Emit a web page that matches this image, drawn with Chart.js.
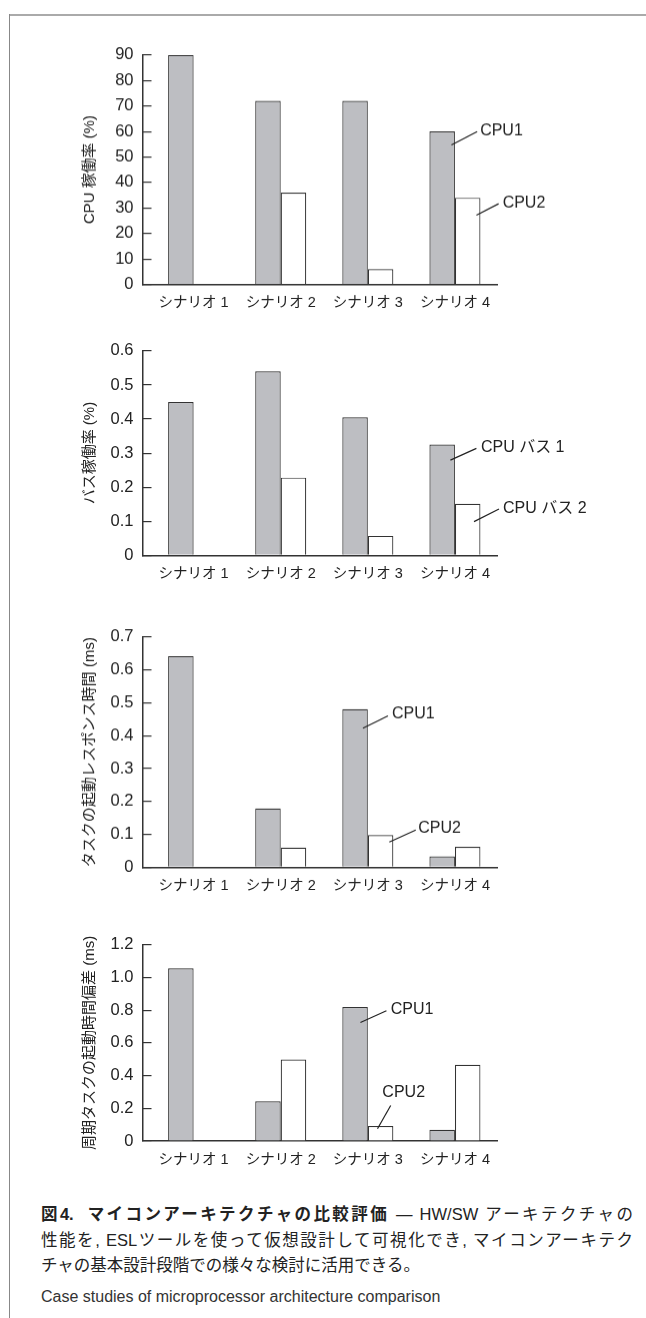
<!DOCTYPE html>
<html>
<head>
<meta charset="utf-8">
<script src="https://cdn.jsdelivr.net/npm/chart.js@4.4.0/dist/chart.umd.min.js"></script>
<style>
  body { margin: 0; background: #fff; width: 646px; height: 1318px; overflow: hidden; position: relative; }
  .frame-top { position: absolute; left: 9px; top: 14px; width: 637px; height: 2px; background: #aaa; }
  .frame-left { position: absolute; left: 9px; top: 14px; width: 1px; height: 1304px; background: #888; }
  .panel { position: absolute; left: 0; width: 646px; }
  #caption { position: absolute; left: 41px; top: 1202px; width: 592px; color: #222;
    font-family: "Liberation Sans", "Noto Sans CJK JP", sans-serif; font-size: 16.5px; line-height: 25.5px; }
  #caption .jl { text-align: justify; text-align-last: justify; }
  #caption .en { margin-top: 5px; font-size: 16px; color: #333; }
</style>
</head>
<body>
<div class="frame-top"></div>
<div class="frame-left"></div>
<div class="panel" id="p1"><canvas id="c1"></canvas></div>
<div class="panel" id="p2"><canvas id="c2"></canvas></div>
<div class="panel" id="p3"><canvas id="c3"></canvas></div>
<div class="panel" id="p4"><canvas id="c4"></canvas></div>
<div id="caption">
  <div class="jl"><b>図4.&nbsp; マイコンアーキテクチャの比較評価</b> — HW/SW アーキテクチャの</div>
  <div class="jl">性能を, ESLツールを使って仮想設計して可視化でき, マイコンアーキテク</div>
  <div>チャの基本設計段階での様々な検討に活用できる。</div>
  <div class="en">Case studies of microprocessor architecture comparison</div>
</div>
<script>
const scenarios = ['シナリオ 1', 'シナリオ 2', 'シナリオ 3', 'シナリオ 4'];

const cpuNames = ['CPU1', 'CPU2'];
const busNames = ['CPU バス 1', 'CPU バス 2'];

// CPU稼働率 (%)
const cpuRate1 = [90, 72, 72, 60];
const cpuRate2 = [null, 36, 6, 34];
const cpuTicks = ['0', '10', '20', '30', '40', '50', '60', '70', '80', '90'];

// バス稼働率 (%)
const busRate1 = [0.45, 0.54, 0.405, 0.325];
const busRate2 = [null, 0.228, 0.057, 0.151];
const busTicks = ['0', '0.1', '0.2', '0.3', '0.4', '0.5', '0.6'];

// タスクの起動レスポンス時間 (ms)
const respTime1 = [0.642, 0.179, 0.481, 0.033];
const respTime2 = [null, 0.06, 0.098, 0.062];
const respTicks = ['0', '0.1', '0.2', '0.3', '0.4', '0.5', '0.6', '0.7'];

// 周期タスクの起動時間偏差 (ms)
const jitter1 = [1.057, 0.243, 0.82, 0.069];
const jitter2 = [null, 0.498, 0.092, 0.467];
const jitterTicks = ['0', '0.2', '0.4', '0.6', '0.8', '1.0', '1.2'];

const FONT = '"Liberation Sans", "Noto Sans CJK JP", sans-serif';
const INK = '#222';
const PAD_TOP = 20;
const X_AXIS_H = 36;

Chart.defaults.font.family = FONT;
Chart.defaults.color = INK;

// leader line + series name, anchored in data units
const leaderLabels = {
    id: 'leaderLabels',
    afterDraw(chart, args, opts) {
        const { ctx } = chart;
        const xs = chart.scales.x, ys = chart.scales.y;
        ctx.save();
        (opts.notes || []).forEach(n => {
            const x0 = xs.getPixelForValue(n.x);
            const y0 = ys.getPixelForValue(n.y);
            const x1 = x0 + n.dx, y1 = y0 + n.dy;
            ctx.strokeStyle = INK;
            ctx.lineWidth = 1.2;
            ctx.beginPath();
            ctx.moveTo(x0, y0);
            ctx.lineTo(x1, y1);
            ctx.stroke();
            ctx.fillStyle = INK;
            ctx.font = '16px ' + FONT;
            ctx.textAlign = n.align || 'left';
            ctx.textBaseline = 'middle';
            ctx.fillText(n.text, x1 + n.tx, y1 + n.ty);
        });
        ctx.restore();
    }
};

function drawPanel(num, plotTop, plotBottom, yTitle, tickLabels, names, s1, s2, notes) {
    const panel = document.getElementById('p' + num);
    panel.style.top = (plotTop - PAD_TOP) + 'px';
    panel.style.height = (plotBottom - plotTop + PAD_TOP + X_AXIS_H) + 'px';

    const ctx = document.getElementById('c' + num).getContext('2d');
    return new Chart(ctx, {
        type: 'bar',
        data: {
            datasets: [{
                label: names[0],
                data: s1.map((v, i) => ({ x: i, y: v })),
                backgroundColor: '#bdbec2',
                borderColor: '#333',
                borderWidth: 1.2
            }, {
                label: names[1],
                data: s2.map((v, i) => ({ x: i, y: v })),
                backgroundColor: '#fff',
                borderColor: '#333',
                borderWidth: 1.2
            }]
        },
        options: {
            responsive: true,
            maintainAspectRatio: false,
            animation: false,
            layout: { padding: { top: PAD_TOP, right: 149, bottom: 0, left: 0 } },
            datasets: { bar: { categoryPercentage: 0.586, barPercentage: 1 } },
            plugins: {
                legend: { display: false },
                tooltip: { enabled: false },
                leaderLabels: { notes: notes }
            },
            scales: {
                x: {
                    type: 'linear',
                    offset: false,
                    min: -0.587,
                    max: 3.483,
                    grid: { display: false, drawTicks: false },
                    border: { display: true, color: '#333', width: 1.5 },
                    afterBuildTicks: s => { s.ticks = scenarios.map((_, i) => ({ value: i })); },
                    afterFit: s => { s.height = X_AXIS_H; },
                    ticks: {
                        callback: v => scenarios[v],
                        font: { size: 14.5 },
                        padding: 10,
                        maxRotation: 0,
                        autoSkip: false
                    }
                },
                y: {
                    min: 0,
                    max: parseFloat(tickLabels[tickLabels.length - 1]),
                    afterBuildTicks: s => { s.ticks = tickLabels.map(t => ({ value: parseFloat(t) })); },
                    afterFit: s => { s.width = 142.5; },
                    ticks: {
                        callback: (v, i) => tickLabels[i],
                        font: { size: 16.5 },
                        padding: 18
                    },
                    grid: { drawOnChartArea: false, tickLength: -9, color: '#333', lineWidth: 1.2 },
                    border: { color: '#333', width: 1.5 },
                    title: {
                        display: true,
                        text: yTitle,
                        font: { size: 15 },
                        padding: { top: 81, bottom: 0 }
                    }
                }
            }
        },
        plugins: [leaderLabels]
    });
}

drawPanel(1, 47, 283.5, 'CPU 稼働率 (%)', cpuTicks, cpuNames, cpuRate1, cpuRate2, [
    { text: 'CPU1', x: 2.96, y: 54.7, dx: 25.7, dy: -13.3, tx: 3, ty: -1 },
    { text: 'CPU2', x: 3.247, y: 27.2, dx: 22.2, dy: -11.3, tx: 4, ty: -1 }
]);

drawPanel(2, 342.7, 555, 'バス稼働率 (%)', busTicks, busNames, busRate1, busRate2, [
    { text: busNames[0], x: 2.948, y: 0.2795, dx: 26, dy: -11.7, tx: 4.5, ty: -1 },
    { text: busNames[1], x: 3.219, y: 0.0988, dx: 25, dy: -12.7, tx: 4, ty: -0.5 }
]);

drawPanel(3, 629.3, 866.7, 'タスクの起動レスポンス時間 (ms)', respTicks, cpuNames, respTime1, respTime2, [
    { text: 'CPU1', x: 1.944, y: 0.4228, dx: 25, dy: -12.3, tx: 4, ty: -2 },
    { text: 'CPU2', x: 2.247, y: 0.0767, dx: 26.4, dy: -12, tx: 2.5, ty: -1.4 }
]);

drawPanel(4, 937, 1141, '周期タスクの起動時間偏差 (ms)', jitterTicks, cpuNames, jitter1, jitter2, [
    { text: 'CPU1', x: 1.915, y: 0.725, dx: 26, dy: -11.7, tx: 4.3, ty: -1.7 },
    { text: 'CPU2', x: 2.111, y: 0.0747, dx: 13.2, dy: -23.3, tx: 13, ty: -12.7, align: 'center' }
]);
</script>
</body>
</html>
